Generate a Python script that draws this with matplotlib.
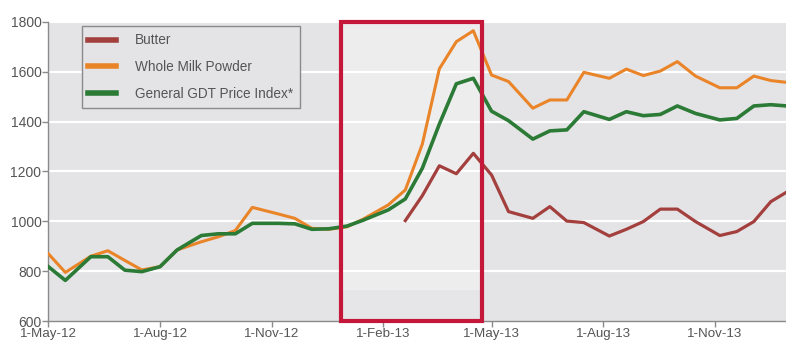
import matplotlib
matplotlib.use("Agg")
import matplotlib.pyplot as plt
import matplotlib.dates as mdates
import matplotlib.transforms as mtransforms
from matplotlib.patches import Rectangle
import numpy as np
import pandas as pd

# GDT auction dates
dates = pd.to_datetime([
    "2012-05-01", "2012-05-15", "2012-06-05", "2012-06-19", "2012-07-03",
    "2012-07-17", "2012-08-01", "2012-08-15", "2012-09-04", "2012-09-18",
    "2012-10-02", "2012-10-16", "2012-11-06", "2012-11-20", "2012-12-04",
    "2012-12-18", "2013-01-02", "2013-01-15", "2013-02-05", "2013-02-19",
    "2013-03-05", "2013-03-19", "2013-04-02", "2013-04-16", "2013-05-01",
    "2013-05-15", "2013-06-04", "2013-06-18", "2013-07-02", "2013-07-16",
    "2013-08-06", "2013-08-20", "2013-09-03", "2013-09-17", "2013-10-01",
    "2013-10-16", "2013-11-05", "2013-11-19", "2013-12-03", "2013-12-17",
    "2014-01-02",
])

nan = np.nan
butter = [nan] * 19 + [
    1003, 1103, 1223, 1191, 1273, 1186, 1039, 1012, 1059, 1001,
    995, 941, 968, 999, 1049, 1049, 999, 943, 959, 999, 1079, 1126,
]
wmp = [
    870, 795, 860, 882, 843, 805, 818, 885, 918, 938,
    963, 1056, 1030, 1012, 972, 968, 978, 1008, 1066, 1126,
    1310, 1612, 1721, 1765, 1587, 1561, 1454, 1487, 1487, 1598,
    1574, 1611, 1585, 1603, 1641, 1583, 1536, 1536, 1583, 1565, 1556,
]
gdt = [
    818, 763, 858, 858, 804, 798, 818, 885, 943, 950,
    950, 992, 992, 990, 968, 970, 981, 1004, 1046, 1090,
    1213, 1390, 1552, 1574, 1442, 1404, 1330, 1363, 1367, 1440,
    1409, 1440, 1424, 1429, 1463, 1433, 1407, 1413, 1463, 1468, 1462,
]

series_labels = ["Butter", "Whole Milk Powder", "General GDT Price Index*"]
colors = ["#a3403d", "#ea8428", "#2b7a36"]
xticks = pd.to_datetime(["2012-05-01", "2012-08-01", "2012-11-01", "2013-02-01",
                         "2013-05-01", "2013-08-01", "2013-11-01"])
yticks = [600, 800, 1000, 1200, 1400, 1600, 1800]

# highlighted period
box_start = pd.Timestamp("2012-12-28")
box_end = pd.Timestamp("2013-04-23")

plt.rcParams["font.family"] = ["Liberation Sans", "DejaVu Sans"]

fig = plt.figure(figsize=(7.86, 3.42), dpi=100)
ax = fig.add_axes([0.0615, 0.0614, 0.9385, 0.8743])
ax.set_facecolor("#e4e4e6")

for y in yticks[1:]:
    ax.axhline(y, color="white", lw=1.6, zorder=1)

# lighter background inside the highlighted period
trans = mtransforms.blended_transform_factory(ax.transData, ax.transAxes)
x0 = mdates.date2num(box_start)
x1 = mdates.date2num(box_end)
ax.add_patch(Rectangle((x0, 725), x1 - x0, 1075, facecolor="#ededee",
                       edgecolor="none", zorder=0.5))
ax.add_patch(Rectangle((x0, 600), x1 - x0, 125, facecolor="#e6e6e8",
                       edgecolor="none", zorder=0.5))

ax.plot(dates, butter, color=colors[0], lw=2.3, label=series_labels[0], zorder=3)
ax.plot(dates, wmp, color=colors[1], lw=2.2, label=series_labels[1], zorder=3)
ax.plot(dates, gdt, color=colors[2], lw=2.6, label=series_labels[2], zorder=4)

ax.add_patch(Rectangle((x0, 0.0), x1 - x0, 1.0, transform=trans, fill=False,
                       edgecolor="#c5173a", lw=3.0, zorder=5, clip_on=False))

ax.set_xlim(pd.Timestamp("2012-05-01"), pd.Timestamp("2013-12-29 12:00"))
ax.set_ylim(600, 1800)
ax.set_yticks(yticks)
ax.set_xticks(xticks)
ax.xaxis.set_major_formatter(
    plt.FuncFormatter(lambda v, p: "{}-{}".format(mdates.num2date(v).day,
                                                   mdates.num2date(v).strftime("%b-%y"))))

for s in ["top", "right"]:
    ax.spines[s].set_visible(False)
for s in ["left", "bottom"]:
    ax.spines[s].set_color("#8a8a8a")
    ax.spines[s].set_linewidth(1.0)
ax.tick_params(axis="both", colors="#8a8a8a", labelcolor="#555555",
               labelsize=10, length=4, width=1.0, pad=1)
ax.tick_params(axis="x", pad=1.2, labelsize=9.6)

leg = ax.legend(loc="upper left", bbox_to_anchor=(0.045, 0.985), fontsize=9.8,
                frameon=True, fancybox=False, handlelength=2.0, handletextpad=1.4,
                borderpad=0.5, labelspacing=0.95, borderaxespad=0.0)
leg.get_frame().set_facecolor("#e4e4e6")
leg.get_frame().set_edgecolor("#8a8a8a")
leg.get_frame().set_linewidth(1.0)
leg.get_frame().set_alpha(1.0)
for line in leg.get_lines():
    line.set_linewidth(4.0)
for t in leg.get_texts():
    t.set_color("#555555")

fig.savefig("out.png", dpi=100)
